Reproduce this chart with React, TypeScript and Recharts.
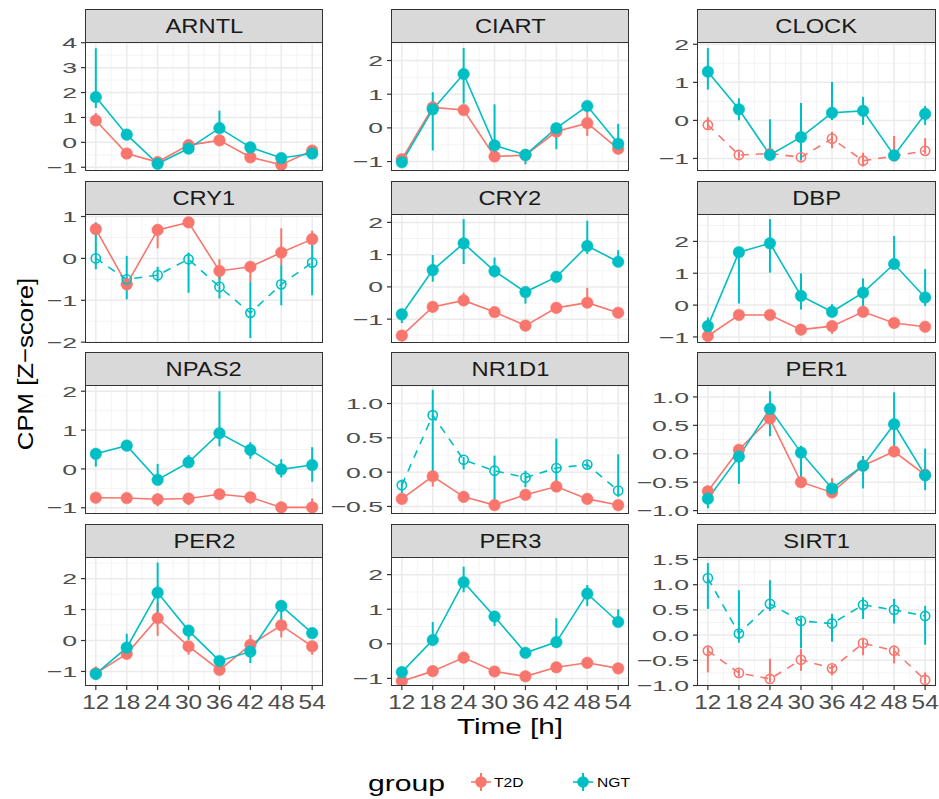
import { LineChart, Line, XAxis, YAxis, CartesianGrid, ErrorBar } from "recharts";

const RED = "#F8766D";
const TEAL = "#00BFC4";

const TIMES = [12, 18, 24, 30, 36, 42, 48, 54];
const X_DOMAIN = [9.9, 56.1];

// mean, lower and upper end of the range, per group and gene
const ARNTL_T2D = [0.88, -0.45, -0.79, -0.11, 0.08, -0.6, -0.9, -0.33];
const ARNTL_T2D_LO = [0.75, -0.55, -0.9, -0.22, -0.05, -0.7, -1.0, -0.45];
const ARNTL_T2D_HI = [1.18, -0.35, -0.68, 0.0, 0.2, -0.5, -0.8, -0.22];
const ARNTL_NGT = [1.82, 0.31, -0.86, -0.25, 0.57, -0.2, -0.63, -0.45];
const ARNTL_NGT_LO = [1.38, 0.18, -0.97, -0.38, 0.42, -0.32, -0.75, -0.58];
const ARNTL_NGT_HI = [3.78, 0.45, -0.75, -0.12, 1.27, -0.08, -0.52, -0.32];

const CIART_T2D = [-0.93, 0.61, 0.53, -0.85, -0.81, -0.11, 0.14, -0.62];
const CIART_T2D_LO = [-1.03, 0.5, 0.43, -0.95, -0.92, -0.22, -0.24, -0.72];
const CIART_T2D_HI = [-0.83, 0.72, 0.63, -0.75, -0.7, 0.0, 0.5, -0.52];
const CIART_NGT = [-1.02, 0.55, 1.6, -0.52, -0.8, -0.01, 0.65, -0.47];
const CIART_NGT_LO = [-1.12, -0.67, 0.72, -0.85, -1.08, -0.63, 0.55, -0.6];
const CIART_NGT_HI = [-0.92, 1.06, 2.37, 0.7, -0.7, 0.1, 0.75, 0.12];

const CLOCK_T2D = [-0.12, -0.91, -0.87, -0.97, -0.48, -1.06, -0.94, -0.8];
const CLOCK_T2D_LO = [-0.25, -1.0, -0.97, -1.06, -0.73, -1.21, -1.05, -0.88];
const CLOCK_T2D_HI = [0.08, -0.82, -0.6, -0.88, -0.3, -0.85, -0.41, -0.47];
const CLOCK_NGT = [1.28, 0.29, -0.91, -0.44, 0.2, 0.25, -0.92, 0.17];
const CLOCK_NGT_LO = [0.81, 0.0, -1.0, -1.04, 0.01, -0.12, -1.02, -0.12];
const CLOCK_NGT_HI = [1.9, 0.58, 0.03, 0.46, 1.01, 0.62, -0.82, 0.38];

const CRY1_T2D = [0.7, -0.62, 0.68, 0.86, -0.3, -0.2, 0.14, 0.46];
const CRY1_T2D_LO = [0.6, -0.72, 0.24, 0.76, -0.5, -0.56, -0.16, 0.36];
const CRY1_T2D_HI = [0.8, -0.52, 0.78, 0.96, -0.02, -0.1, 0.72, 0.66];
const CRY1_NGT = [0.0, -0.5, -0.4, -0.02, -0.68, -1.3, -0.62, -0.1];
const CRY1_NGT_LO = [-0.26, -0.98, -0.56, -0.82, -0.96, -1.9, -1.12, -0.88];
const CRY1_NGT_HI = [0.86, 0.06, -0.2, 0.14, -0.4, -0.56, -0.16, 0.5];

const CRY2_T2D = [-1.51, -0.62, -0.42, -0.78, -1.2, -0.65, -0.49, -0.8];
const CRY2_T2D_LO = [-1.61, -0.72, -0.52, -0.88, -1.3, -0.75, -0.59, -0.9];
const CRY2_T2D_HI = [-1.41, -0.52, -0.18, -0.68, -1.1, -0.55, -0.03, -0.7];
const CRY2_NGT = [-0.85, 0.52, 1.35, 0.49, -0.16, 0.31, 1.27, 0.78];
const CRY2_NGT_LO = [-1.12, 0.16, 0.71, 0.29, -0.52, 0.21, 1.02, 0.68];
const CRY2_NGT_HI = [-0.75, 0.99, 2.1, 0.91, 0.0, 0.41, 2.05, 1.14];

const DBP_T2D = [-0.97, -0.31, -0.31, -0.77, -0.66, -0.21, -0.56, -0.68];
const DBP_T2D_LO = [-1.07, -0.41, -0.41, -0.87, -0.9, -0.31, -0.66, -0.78];
const DBP_T2D_HI = [-0.87, -0.21, -0.21, -0.67, -0.56, -0.11, -0.46, -0.58];
const DBP_NGT = [-0.66, 1.66, 1.94, 0.29, -0.21, 0.39, 1.29, 0.24];
const DBP_NGT_LO = [-0.76, 0.05, 1.02, -0.14, -0.31, -0.03, 1.15, -0.03];
const DBP_NGT_HI = [-0.39, 1.8, 2.7, 1.0, 0.03, 0.84, 2.17, 1.13];

const NPAS2_T2D = [-0.74, -0.75, -0.78, -0.76, -0.65, -0.73, -0.99, -0.99];
const NPAS2_T2D_LO = [-0.84, -0.85, -0.96, -0.93, -0.75, -0.89, -1.09, -1.09];
const NPAS2_T2D_HI = [-0.64, -0.65, -0.68, -0.66, -0.55, -0.63, -0.89, -0.76];
const NPAS2_NGT = [0.39, 0.6, -0.28, 0.17, 0.92, 0.49, -0.01, 0.1];
const NPAS2_NGT_LO = [0.06, 0.5, -0.38, 0.07, 0.58, 0.26, -0.22, -0.33];
const NPAS2_NGT_HI = [0.49, 0.7, 0.13, 0.36, 2.0, 0.69, 0.25, 0.56];

const NR1D1_T2D = [-0.39, -0.06, -0.36, -0.48, -0.33, -0.21, -0.39, -0.48];
const NR1D1_T2D_LO = [-0.44, -0.21, -0.41, -0.53, -0.38, -0.26, -0.44, -0.53];
const NR1D1_T2D_HI = [-0.34, -0.01, -0.28, -0.43, -0.28, -0.16, -0.34, -0.43];
const NR1D1_NGT = [-0.19, 0.83, 0.18, 0.02, -0.08, 0.06, 0.11, -0.27];
const NR1D1_NGT_LO = [-0.31, -0.06, 0.04, -0.55, -0.22, -0.22, 0.06, -0.36];
const NR1D1_NGT_HI = [-0.11, 1.2, 0.22, 0.24, 0.02, 0.49, 0.16, 0.26];

const PER1_T2D = [-0.66, 0.07, 0.62, -0.5, -0.68, -0.21, 0.04, -0.37];
const PER1_T2D_LO = [-0.72, 0.01, 0.56, -0.56, -0.74, -0.27, -0.06, -0.43];
const PER1_T2D_HI = [-0.6, 0.13, 0.68, -0.44, -0.43, -0.05, 0.1, -0.31];
const PER1_NGT = [-0.79, -0.05, 0.79, 0.02, -0.61, -0.21, 0.52, -0.38];
const PER1_NGT_LO = [-0.96, -0.53, 0.31, -0.41, -0.67, -0.61, 0.13, -0.64];
const PER1_NGT_HI = [-0.73, 0.05, 1.1, 0.14, -0.55, -0.04, 1.08, 0.09];

const PER2_T2D = [-1.06, -0.43, 0.72, -0.19, -0.95, -0.14, 0.49, -0.19];
const PER2_T2D_LO = [-1.16, -0.53, 0.15, -0.46, -1.05, -0.24, 0.1, -0.46];
const PER2_T2D_HI = [-0.84, -0.33, 1.21, -0.09, -0.85, 0.18, 0.59, -0.09];
const PER2_NGT = [-1.08, -0.23, 1.55, 0.32, -0.66, -0.36, 1.12, 0.24];
const PER2_NGT_LO = [-1.27, -0.33, 0.89, 0.02, -0.76, -0.73, 0.67, 0.14];
const PER2_NGT_HI = [-0.98, 0.22, 2.52, 0.42, -0.56, -0.03, 1.22, 0.34];

const PER3_T2D = [-1.08, -0.79, -0.4, -0.8, -0.94, -0.68, -0.55, -0.71];
const PER3_T2D_LO = [-1.18, -0.89, -0.5, -0.9, -1.04, -0.78, -0.65, -0.81];
const PER3_T2D_HI = [-0.98, -0.69, -0.3, -0.7, -0.84, -0.58, -0.45, -0.61];
const PER3_NGT = [-0.82, 0.11, 1.78, 0.79, -0.26, 0.05, 1.45, 0.63];
const PER3_NGT_LO = [-0.92, 0.01, 1.49, 0.51, -0.36, -0.05, 1.09, 0.53];
const PER3_NGT_HI = [-0.72, 0.63, 2.23, 0.89, -0.16, 0.74, 1.7, 1.0];

const SIRT1_T2D = [-0.31, -0.75, -0.87, -0.49, -0.66, -0.16, -0.31, -0.89];
const SIRT1_T2D_LO = [-0.74, -0.82, -0.94, -0.71, -0.8, -0.4, -0.56, -0.96];
const SIRT1_T2D_HI = [-0.24, -0.68, -0.47, -0.28, -0.59, -0.06, -0.24, -0.74];
const SIRT1_NGT = [1.13, 0.03, 0.62, 0.28, 0.23, 0.6, 0.5, 0.38];
const SIRT1_NGT_LO = [0.52, -0.15, 0.48, -0.26, -0.13, 0.32, 0.23, -0.19];
const SIRT1_NGT_HI = [1.43, 0.89, 1.09, 0.35, 0.42, 0.75, 0.72, 0.58];

const INT_TICKS_4 = [-1, 0, 1, 2, 3, 4];
const INT_TICKS = [-1, 0, 1, 2];
const CRY1_TICKS = [-2, -1, 0, 1];
const NR1D1_TICKS = [-0.5, 0, 0.5, 1];
const PER1_TICKS = [-1, -0.5, 0, 0.5, 1];
const SIRT1_TICKS = [-1, -0.5, 0, 0.5, 1, 1.5];

type Panel = {
  name: string;
  t2d: number[]; t2dLo: number[]; t2dHi: number[];
  ngt: number[]; ngtLo: number[]; ngtHi: number[];
  domain: [number, number];
  ticks: number[];
  digits: number;
  dashT2D?: boolean;
  dashNGT?: boolean;
};

const PANELS: Panel[] = [
  { name: "ARNTL", t2d: ARNTL_T2D, t2dLo: ARNTL_T2D_LO, t2dHi: ARNTL_T2D_HI, ngt: ARNTL_NGT, ngtLo: ARNTL_NGT_LO, ngtHi: ARNTL_NGT_HI, domain: [-1.15, 4.03], ticks: INT_TICKS_4, digits: 0 },
  { name: "CIART", t2d: CIART_T2D, t2dLo: CIART_T2D_LO, t2dHi: CIART_T2D_HI, ngt: CIART_NGT, ngtLo: CIART_NGT_LO, ngtHi: CIART_NGT_HI, domain: [-1.28, 2.55], ticks: INT_TICKS, digits: 0 },
  { name: "CLOCK", t2d: CLOCK_T2D, t2dLo: CLOCK_T2D_LO, t2dHi: CLOCK_T2D_HI, ngt: CLOCK_NGT, ngtLo: CLOCK_NGT_LO, ngtHi: CLOCK_NGT_HI, domain: [-1.33, 2.06], ticks: INT_TICKS, digits: 0, dashT2D: true },
  { name: "CRY1", t2d: CRY1_T2D, t2dLo: CRY1_T2D_LO, t2dHi: CRY1_T2D_HI, ngt: CRY1_NGT, ngtLo: CRY1_NGT_LO, ngtHi: CRY1_NGT_HI, domain: [-2.02, 1.06], ticks: CRY1_TICKS, digits: 0, dashNGT: true },
  { name: "CRY2", t2d: CRY2_T2D, t2dLo: CRY2_T2D_LO, t2dHi: CRY2_T2D_HI, ngt: CRY2_NGT, ngtLo: CRY2_NGT_LO, ngtHi: CRY2_NGT_HI, domain: [-1.74, 2.26], ticks: INT_TICKS, digits: 0 },
  { name: "DBP", t2d: DBP_T2D, t2dLo: DBP_T2D_LO, t2dHi: DBP_T2D_HI, ngt: DBP_NGT, ngtLo: DBP_NGT_LO, ngtHi: DBP_NGT_HI, domain: [-1.19, 2.86], ticks: INT_TICKS, digits: 0 },
  { name: "NPAS2", t2d: NPAS2_T2D, t2dLo: NPAS2_T2D_LO, t2dHi: NPAS2_T2D_HI, ngt: NPAS2_NGT, ngtLo: NPAS2_NGT_LO, ngtHi: NPAS2_NGT_HI, domain: [-1.16, 2.16], ticks: INT_TICKS, digits: 0 },
  { name: "NR1D1", t2d: NR1D1_T2D, t2dLo: NR1D1_T2D_LO, t2dHi: NR1D1_T2D_HI, ngt: NR1D1_NGT, ngtLo: NR1D1_NGT_LO, ngtHi: NR1D1_NGT_HI, domain: [-0.61, 1.27], ticks: NR1D1_TICKS, digits: 1, dashNGT: true },
  { name: "PER1", t2d: PER1_T2D, t2dLo: PER1_T2D_LO, t2dHi: PER1_T2D_HI, ngt: PER1_NGT, ngtLo: PER1_NGT_LO, ngtHi: PER1_NGT_HI, domain: [-1.06, 1.21], ticks: PER1_TICKS, digits: 1 },
  { name: "PER2", t2d: PER2_T2D, t2dLo: PER2_T2D_LO, t2dHi: PER2_T2D_HI, ngt: PER2_NGT, ngtLo: PER2_NGT_LO, ngtHi: PER2_NGT_HI, domain: [-1.47, 2.7], ticks: INT_TICKS, digits: 0 },
  { name: "PER3", t2d: PER3_T2D, t2dLo: PER3_T2D_LO, t2dHi: PER3_T2D_HI, ngt: PER3_NGT, ngtLo: PER3_NGT_LO, ngtHi: PER3_NGT_HI, domain: [-1.22, 2.51], ticks: INT_TICKS, digits: 0 },
  { name: "SIRT1", t2d: SIRT1_T2D, t2dLo: SIRT1_T2D_LO, t2dHi: SIRT1_T2D_HI, ngt: SIRT1_NGT, ngtLo: SIRT1_NGT_LO, ngtHi: SIRT1_NGT_HI, domain: [-1.01, 1.55], ticks: SIRT1_TICKS, digits: 1, dashT2D: true, dashNGT: true },
];

const FONT = "'Liberation Sans', Arial, sans-serif";
const COL_X = [85, 391, 697];
const PLOT_W = [238, 238, 239];
const ROW_Y = [42, 214, 385, 557];
const PLOT_H = 129;
const STRIP_H = 33;
const Y_AXIS_W = 70;
const PAD = 12; // room for tick labels that stick out past the plot edges

const fmt = (v: number, digits: number) => v.toFixed(digits).replace("-", "\u2212");

// ggplot draws minor grid lines halfway between the major breaks
const minorOf = (ticks: number[], domain: [number, number]) => {
  const step = ticks[1] - ticks[0];
  const out: number[] = [];
  for (let v = ticks[0] - step / 2; v <= domain[1]; v += step) {
    if (v >= domain[0]) out.push(v);
  }
  return out;
};
const minorX = minorOf(TIMES, X_DOMAIN as [number, number]);

const YTick = (props: any) => {
  const { x, y, payload, digits } = props;
  return (
    <g transform={`translate(${x},${y})`}>
      <text textAnchor="end" dy="0.36em" fontSize={15.5} fill="#4D4D4D" fontFamily={FONT} transform="scale(1.72,1)">
        {fmt(payload.value, digits)}
      </text>
    </g>
  );
};

const XTick = (props: any) => {
  const { x, y, payload } = props;
  return (
    <g transform={`translate(${x},${y})`}>
      <text textAnchor="middle" dy="0.71em" fontSize={20} fill="#4D4D4D" fontFamily={FONT} transform="scale(1.22,1)">
        {payload.value}
      </text>
    </g>
  );
};

function series(color: string, key: string, dashed?: boolean) {
  return (
    <Line
      key={key}
      type="linear"
      dataKey={key}
      stroke={color}
      strokeWidth={1.6}
      strokeDasharray={dashed ? "8 7" : undefined}
      dot={dashed
        ? { r: 4.6, fill: "none", stroke: color, strokeWidth: 1.6, strokeDasharray: "none" }
        : { r: 5.8, fill: color, stroke: color, strokeWidth: 0.5, strokeDasharray: "none" }}
      isAnimationActive={false}
    >
      <ErrorBar dataKey={key + "Err"} width={0} stroke={color} strokeWidth={2} direction="y" />
    </Line>
  );
}

function FacetPanel({ p, idx }: { p: Panel; idx: number }) {
  const row = Math.floor(idx / 3);
  const col = idx % 3;
  const bottom = row === 3;
  const x = COL_X[col];
  const y = ROW_Y[row];
  const w = PLOT_W[col];
  const rows = TIMES.map((t, i) => ({
    t,
    t2d: p.t2d[i],
    t2dErr: [p.t2d[i] - p.t2dLo[i], p.t2dHi[i] - p.t2d[i]],
    ngt: p.ngt[i],
    ngtErr: [p.ngt[i] - p.ngtLo[i], p.ngtHi[i] - p.ngt[i]],
  }));
  const minorY = minorOf(p.ticks, p.domain);
  return (
    <>
      <div
        style={{
          position: "absolute", left: x, top: y - STRIP_H, width: w, height: STRIP_H + 1,
          boxSizing: "border-box", background: "#D9D9D9", border: "1.3px solid #333333",
          display: "flex", alignItems: "center", justifyContent: "center",
          fontFamily: FONT, fontSize: 21, color: "#1A1A1A",
        }}
      >
        <span style={{ display: "inline-block", transform: "scaleX(1.13)" }}>{p.name}</span>
      </div>
      <div style={{ position: "absolute", left: x - Y_AXIS_W, top: y - PAD }}>
        <LineChart
          width={Y_AXIS_W + w + PAD}
          height={PLOT_H + PAD + (bottom ? 40 : PAD)}
          data={rows}
          margin={{ top: PAD, right: PAD, bottom: bottom ? 0 : PAD, left: 0 }}
        >
          <CartesianGrid horizontalValues={minorY} verticalValues={minorX} stroke="#F3F3F3" strokeWidth={0.9} />
          <CartesianGrid horizontalValues={p.ticks} verticalValues={TIMES} stroke="#EBEBEB" strokeWidth={1.5} />
          <XAxis
            type="number"
            dataKey="t"
            domain={X_DOMAIN}
            ticks={TIMES}
            allowDataOverflow
            hide={!bottom}
            height={bottom ? 40 : 0}
            axisLine={false}
            tickSize={4}
            tickMargin={5}
            tickLine={{ stroke: "#333333", strokeWidth: 1.2 }}
            tick={<XTick />}
            interval={0}
          />
          <YAxis
            type="number"
            domain={p.domain}
            ticks={p.ticks}
            allowDataOverflow
            width={Y_AXIS_W}
            axisLine={false}
            tickSize={4}
            tickMargin={4}
            tickLine={{ stroke: "#333333", strokeWidth: 1.2 }}
            tick={<YTick digits={p.digits} />}
            interval={0}
          />
          {series(RED, "t2d", p.dashT2D)}
          {series(TEAL, "ngt", p.dashNGT)}
        </LineChart>
      </div>
      <div
        style={{
          position: "absolute", left: x, top: y, width: w, height: PLOT_H,
          boxSizing: "border-box", border: "1.3px solid #333333", pointerEvents: "none",
        }}
      />
    </>
  );
}

function LegendKey({ cx, cy, color }: { cx: number; cy: number; color: string }) {
  return (
    <g>
      <line x1={cx - 10} x2={cx + 10} y1={cy} y2={cy} stroke={color} strokeWidth={1.6} />
      <line x1={cx} x2={cx} y1={cy - 9} y2={cy + 9} stroke={color} strokeWidth={2} />
      <circle cx={cx} cy={cy} r={5.8} fill={color} />
    </g>
  );
}

export default function App() {
  return (
    <div style={{ position: "absolute", left: 0, top: 0, width: 939, height: 799, background: "#fff", overflow: "hidden" }}>
      <svg width={939} height={799} style={{ position: "absolute", left: 0, top: 0 }}>
        <text transform="translate(33,364) rotate(-90) scale(1.12,1)" textAnchor="middle" fontSize={23} fontFamily={FONT} fill="#000">
          CPM [Z{"\u2212"}score]
        </text>
        <text transform="translate(510,734) scale(1.32,1)" textAnchor="middle" fontSize={22.5} fontFamily={FONT} fill="#000">
          Time [h]
        </text>
        <text transform="translate(368,791) scale(1.37,1)" fontSize={22} fontFamily={FONT} fill="#000">
          group
        </text>
        <LegendKey cx={481} cy={782} color={RED} />
        <text transform="translate(494,787) scale(1.2,1)" fontSize={13} fontFamily={FONT} fill="#000">T2D</text>
        <LegendKey cx={583} cy={782} color={TEAL} />
        <text transform="translate(597,787) scale(1.2,1)" fontSize={13} fontFamily={FONT} fill="#000">NGT</text>
      </svg>
      {PANELS.map((p, i) => (
        <FacetPanel key={p.name} p={p} idx={i} />
      ))}
    </div>
  );
}
